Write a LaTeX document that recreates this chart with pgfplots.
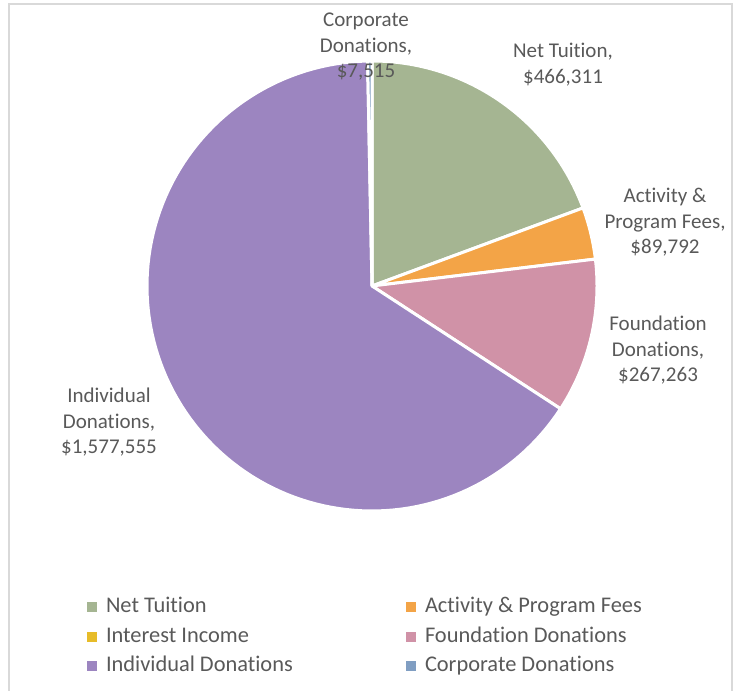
\documentclass[border=0pt]{standalone}
\usepackage{pgfplots}
\pgfplotsset{compat=1.18}
\usepackage{fontspec}
\setmainfont{Carlito}[Ligatures=NoCommon]
\definecolor{cA}{HTML}{A5B592}
\definecolor{cB}{HTML}{F3A447}
\definecolor{cC}{HTML}{E7BC29}
\definecolor{cD}{HTML}{D092A7}
\definecolor{cE}{HTML}{9C85C0}
\definecolor{cF}{HTML}{809EC2}
\definecolor{txt}{HTML}{595959}
\definecolor{frame}{HTML}{D9D9D9}
% data values
\def\vA{466311}  % Net Tuition
\def\vB{89792}   % Activity & Program Fees
\def\vC{0}       % Interest Income
\def\vD{267263}  % Foundation Donations
\def\vE{1577555} % Individual Donations
\def\vF{7515}    % Corporate Donations
\edef\tot{\fpeval{\vA+\vB+\vC+\vD+\vE+\vF}}
\edef\aA{\fpeval{round(90-360*(\vA)/\tot,4)}}
\edef\aB{\fpeval{round(90-360*(\vA+\vB)/\tot,4)}}
\edef\aC{\fpeval{round(90-360*(\vA+\vB+\vC)/\tot,4)}}
\edef\aD{\fpeval{round(90-360*(\vA+\vB+\vC+\vD)/\tot,4)}}
\edef\aE{\fpeval{round(90-360*(\vA+\vB+\vC+\vD+\vE)/\tot,4)}}
\def\cx{372}\def\cy{405}\def\rr{225}
\newcommand{\lbl}[5]{%
  \node[anchor=base,inner sep=0pt] at (axis cs:#1,#2) {#3};
  \node[anchor=base,inner sep=0pt] at (axis cs:#1,{#2-25.5}) {#4};
  \node[anchor=base,inner sep=0pt] at (axis cs:#1,{#2-51}) {#5};}
\begin{document}
\begin{tikzpicture}
\begin{axis}[
  x=1pt, y=1pt, xmin=0, xmax=738, ymin=0, ymax=691,
  hide axis, clip=false,
  every axis plot/.append style={draw=white, line width=3pt, line join=round, samples=120},
  legend image code/.code={\fill[#1, draw=none] (0pt,-5pt) rectangle (10pt,5pt);},
  legend columns=2,
  legend cell align=left,
  legend style={draw=none, fill=none, inner sep=0pt, outer sep=0pt,
    at={(axis cs:87,94)}, anchor=north west,
    font=\fontsize{22.4}{26}\selectfont, text=txt,
    row sep=8.5pt,
    nodes={inner sep=0pt, text height=16pt, text depth=5pt},
    /tikz/every odd column/.style={column sep=9pt},
    /tikz/every even column/.style={column sep=0pt}},
]
\path (axis cs:0,0) rectangle (axis cs:738,691);
\draw[frame, line width=2pt] (axis cs:8.5,0) -- (axis cs:8.5,687) -- (axis cs:732,687) -- (axis cs:732,0);
\addplot[fill=cA, domain=\aA:90] ({\cx+\rr*cos(x)},{\cy+\rr*sin(x)}) -- (axis cs:\cx,\cy) -- cycle;
\addlegendentry{\makebox[300pt][l]{Net Tuition}}
\addplot[fill=cB, domain=\aB:\aA] ({\cx+\rr*cos(x)},{\cy+\rr*sin(x)}) -- (axis cs:\cx,\cy) -- cycle;
\addlegendentry{\makebox[300pt][l]{Activity \& Program Fees}}
\addlegendimage{fill=cC}
\addlegendentry{\makebox[300pt][l]{Interest Income}}
\addplot[fill=cD, domain=\aD:\aC] ({\cx+\rr*cos(x)},{\cy+\rr*sin(x)}) -- (axis cs:\cx,\cy) -- cycle;
\addlegendentry{\makebox[300pt][l]{Foundation Donations}}
\addplot[fill=cE, domain=\aE:\aD] ({\cx+\rr*cos(x)},{\cy+\rr*sin(x)}) -- (axis cs:\cx,\cy) -- cycle;
\addlegendentry{\makebox[300pt][l]{Individual Donations}}
\addplot[fill=cF, domain=-270:\aE, samples=10] ({\cx+\rr*cos(x)},{\cy+\rr*sin(x)}) -- (axis cs:\cx,\cy) -- cycle;
\addlegendentry{\makebox[300pt][l]{Corporate Donations}}
\begin{scope}[font=\fontsize{21}{25.5}\selectfont, text=txt]
\lbl{366}{664.3}{Corporate}{Donations,}{\$7,515}
\lbl{563}{633}{Net Tuition,}{\$466,311}{}
\lbl{665}{488}{Activity \&}{Program Fees,}{\$89,792}
\lbl{658}{360.3}{Foundation}{Donations,}{\$267,263}
\lbl{109}{288}{Individual}{Donations,}{\$1,577,555}
\end{scope}
\end{axis}
\end{tikzpicture}
\end{document}
